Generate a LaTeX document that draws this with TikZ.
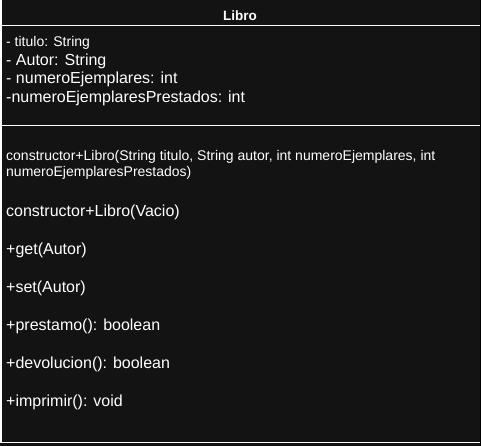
\documentclass[tikz,border=0pt]{standalone}
\usepackage{fontspec}
\setmainfont{Liberation Sans}
\begin{document}
\begin{tikzpicture}[x=1pt,y=-1pt,
  sep/.style={draw=white,line width=1.2pt},
  member/.style={anchor=base west,inner sep=0pt,text=white},
  small/.style={member,font=\fontsize{14}{16}\selectfont},
  large/.style={member,font=\fontsize{16}{18}\selectfont},
  classname/.style={anchor=base,inner sep=0pt,text=white,font=\bfseries\fontsize{13.5}{15}\selectfont}]
  % canvas and class box background
  \fill[black] (0,0) rectangle (481,446);
  \useasboundingbox (0,0) rectangle (481,446);
  \fill[fill={rgb,255:red,19;green,19;blue,19}] (0,0) rectangle (480,446);

  % compartment separators and outline
  \coordinate (tl) at (0,25.5);   \coordinate (tr) at (480,25.5);
  \coordinate (ml) at (0,125.5);  \coordinate (mr) at (480,125.5);
  \coordinate (bl) at (0,442.5);  \coordinate (br) at (480,442.5);
  \coordinate (lt) at (1,0);
  \draw[sep] (tl) -- (tr);
  \draw[sep] (ml) -- (mr);
  \draw[sep] (bl) -- (br);
  \draw[sep] (lt) -- (bl -| lt);

  % class name
  \node[classname] (name) at (240,20.5) {Libro};

  % attributes
  \node[small] (a1) at (6,47)   {- titulo: String};
  \node[large] (a2) at (6,65.5) {- Autor: String};
  \node[large] (a3) at (6,84)   {- numeroEjemplares: int};
  \node[large] (a4) at (6,103)  {-numeroEjemplaresPrestados: int};

  % operations
  \node[small] (m1) at (6,161)  {constructor+Libro(String titulo, String autor, int numeroEjemplares, int};
  \node[small] (m1b) at (6,177) {numeroEjemplaresPrestados)};
  \node[large] (m2) at (6,216)  {constructor+Libro(Vacio)};
  \node[large] (m3) at (6,254)  {+get(Autor)};
  \node[large] (m4) at (6,292.5) {+set(Autor)};
  \node[large] (m5) at (6,330.5) {+prestamo(): boolean};
  \node[large] (m6) at (6,368.5) {+devolucion(): boolean};
  \node[large] (m7) at (6,406.5) {+imprimir(): void};
\end{tikzpicture}
\end{document}
